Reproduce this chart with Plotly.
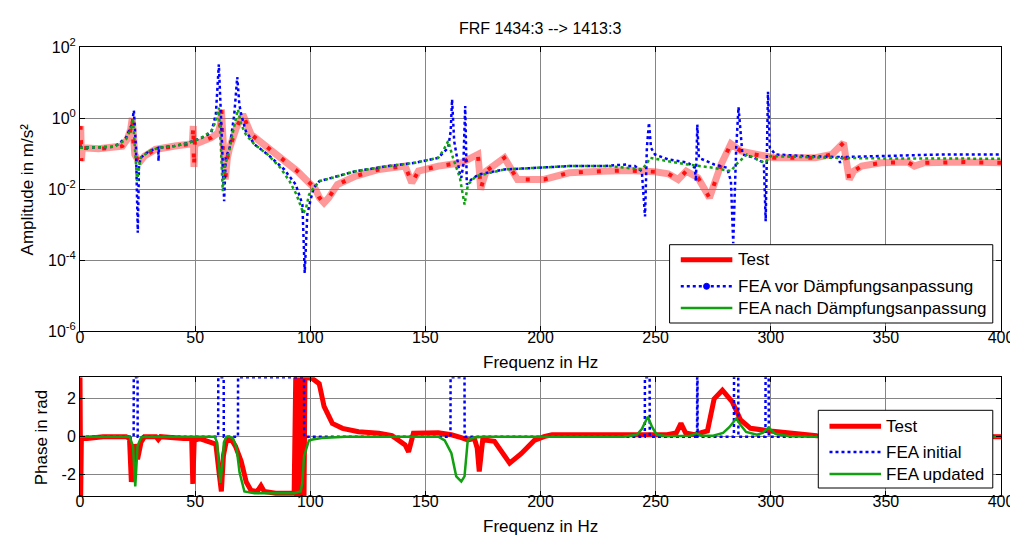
import plotly.graph_objects as go

# ---------------- data: amplitude (m/s^2) ----------------
test_amp_f = [0, 0.3, 0.6, 1.0, 8, 15.5, 18.4, 20.5, 22, 22.7, 23.3, 23.8, 25, 26.3, 28, 32.7, 41.3, 47,
              48.8, 49.2, 49.5, 49.9, 51.4, 57, 60, 61, 61.4, 62, 63.1, 64, 65, 67.9, 70.7, 74.3, 80, 87.2,
              94.4, 100.9, 102, 104, 106, 108, 111.8, 119.7, 129.8, 141.2, 144.1, 147, 155.6, 165.6, 172.8,
              173.5, 174, 175, 176.4, 184.3, 190, 201.5, 212.4, 226.8, 238.2, 249.7, 255.5, 259.8, 263.3,
              268.4, 273.4, 278.4, 282.7, 287, 292.8, 301.4, 319.4, 326.5, 331.6, 333, 334.1, 336, 339.5,
              348, 359.5, 362.4, 366.7, 384, 400]
test_amp = [0.146, 0.60, 0.062, 0.146, 0.137, 0.146, 0.163, 0.25, 0.48, 1.0, 0.146, 0.095, 0.069, 0.062,
            0.085, 0.131, 0.163, 0.181, 0.19, 0.60, 0.042, 0.225, 0.20, 0.279, 0.386, 0.66, 1.75, 0.146,
            0.0187, 0.076, 0.146, 0.53, 1.27, 0.347, 0.181, 0.076, 0.032, 0.0122, 0.0109, 0.0057, 0.0041,
            0.0057, 0.0135, 0.0232, 0.0358, 0.0445, 0.0151, 0.0321, 0.0445, 0.0552, 0.0948, 0.03, 0.0098,
            0.0168, 0.0321, 0.0763, 0.0187, 0.0187, 0.0288, 0.0321, 0.0336, 0.0307, 0.0271, 0.0187, 0.0321,
            0.0209, 0.0057, 0.0495, 0.189, 0.118, 0.0948, 0.0763, 0.0763, 0.0948, 0.202, 0.06, 0.0187,
            0.0321, 0.0445, 0.0552, 0.0577, 0.0445, 0.0552, 0.0577, 0.0552]

fea_init_amp_f = [0, 15, 20, 22.5, 23.4, 24.3, 25.1, 25.6, 26.3, 30, 34, 34.1, 34.3, 41, 47, 52.8, 57, 59,
                  60.3, 61.2, 61.8, 62.6, 63.3, 65, 67, 68.3, 69.2, 70, 72, 75.8, 81.5, 88.7, 93.7, 96.6,
                  97.6, 98.7, 100, 101.5, 104, 109.6, 119.7, 134, 145.5, 155.6, 159.9, 161, 161.6, 162.5,
                  165, 165.6, 166.5, 167.3, 168, 170, 173, 184.3, 201.5, 212.4, 226.8, 237.5, 238, 241, 244,
                  245.4, 246.2, 247.1, 248, 249.7, 255.5, 264, 267, 267.5, 268.1, 268.8, 275.5, 281, 282.7,
                  283.7, 285, 286, 287.7, 292.8, 297, 297.8, 298.8, 299.6, 302, 315, 329.5, 330.1, 331,
                  350, 375, 400]
fea_init_amp = [0.146, 0.156, 0.279, 0.66, 1.64, 0.146, 0.00059, 0.040, 0.076, 0.118, 0.146, 0.062, 0.146,
                0.163, 0.20, 0.279, 0.386, 1.27, 32.5, 1.27, 0.146, 0.0046, 0.076, 0.146, 1.27, 14.3, 2.43,
                1.27, 0.43, 0.181, 0.095, 0.0358, 0.0135, 0.0037, 0.000044, 0.0019, 0.0046, 0.0109, 0.0168,
                0.0209, 0.0321, 0.0445, 0.0552, 0.0763, 0.146, 0.43, 3.36, 0.225, 0.0259, 0.0209, 0.05,
                2.18, 0.0135, 0.0187, 0.0259, 0.0358, 0.040, 0.0445, 0.0445, 0.0495, 0.0445, 0.0445, 0.032,
                0.0017, 0.146, 0.74, 0.146, 0.0948, 0.0685, 0.0552, 0.040, 0.0168, 0.66, 0.0763, 0.0495,
                0.040, 0.0168, 0.0003, 0.146, 2.04, 0.0948, 0.0763, 0.0552, 0.00126, 5.5, 0.146, 0.0948,
                0.085, 0.08, 0.055, 0.08, 0.085, 0.0948, 0.0948]

fea_upd_amp_f = [0, 15, 20, 22.3, 23, 24, 24.8, 25.6, 26.3, 30, 34, 41, 47, 52.8, 57, 59, 60.3, 61.2, 62,
                 63, 64.5, 66.5, 68.6, 70, 72, 75.8, 81.5, 87, 91, 94, 97, 98.2, 99.5, 101.5, 104, 109.6,
                 119.7, 134, 145.5, 155.6, 158, 159.9, 162, 165, 167, 168.5, 172, 184.3, 201.5, 212, 230,
                 244, 246, 247.6, 255, 264, 275, 282.7, 285, 289.7, 294, 297.5, 300, 326, 350, 400]
fea_upd_amp = [0.146, 0.156, 0.25, 0.53, 1.0, 0.076, 0.017, 0.040, 0.076, 0.118, 0.146, 0.163, 0.20, 0.279,
               0.43, 0.82, 1.95, 0.146, 0.0088, 0.0495, 0.0948, 0.43, 1.75, 0.66, 0.347, 0.181, 0.0948, 0.04,
               0.0168, 0.0071, 0.0021, 0.0030, 0.0071, 0.0109, 0.0168, 0.0209, 0.0321, 0.0445, 0.0552,
               0.0763, 0.131, 0.225, 0.0763, 0.0209, 0.0037, 0.0135, 0.0232, 0.0358, 0.040, 0.0445, 0.0445,
               0.036, 0.05, 0.0763, 0.0618, 0.0495, 0.040, 0.032, 0.05, 0.0948, 0.0685, 0.0552, 0.085,
               0.0763, 0.073, 0.072]

# ---------------- data: phase (rad) ----------------
test_ph_f = [0, 0.3, 0.6, 3, 10, 20, 21.5, 22.3, 23, 24, 25, 26.5, 28, 33, 34, 35, 45, 48.5, 49, 49.6, 52,
             56, 59, 60.5, 61.4, 62.3, 63.6, 66, 67.5, 70, 72.2, 74.3, 77, 78.6, 80, 85, 93,
             93.7, 94.1, 94.5, 94.9, 95.3, 95.7, 96.1, 96.5, 96.9, 97.3, 97.7, 101, 103.9, 106, 109.6,
             114, 121, 129.8, 135.5, 141.2, 142.7, 143.5, 144.8, 155.6, 161.3, 165.6, 168.4, 171.3, 172.5,
             173.4, 174.2, 174.9, 180, 183, 186.6, 191.6, 197.3, 201.5, 205, 246, 255, 259, 261, 263,
             266.8, 272.5, 275.4, 279, 283.3, 286.9, 291.2, 299.8, 311, 320, 400]
test_ph = [3.14, -3.14, -0.1, -0.1, 0.0, 0.0, -0.1, -2.4, -1.2, -0.4, -1.2, -0.3, 0.0, 0.0, -0.15, 0.0,
           -0.1, -0.1, -2.5, -0.2, -0.1, -0.3, -0.4, -2.0, -2.9, -1.0, -0.2, -0.2, -0.5, -1.3, -2.4, -2.85,
           -2.9, -2.6, -2.9, -3.0, -3.0,
           3.14, -3.14, 3.14, -3.14, 3.14, -3.14, 3.14, -3.14, 3.14, -3.14, 3.14, 3.07, 2.8, 1.6, 0.7,
           0.44, 0.26, 0.18, 0.05, -0.44, -0.8, -0.5, 0.18, 0.2, 0.1, -0.05, -0.17, -0.1, -0.6,
           -1.85, -0.5, -0.17, -0.25, -0.8, -1.4, -0.9, -0.2, 0.0, 0.1, 0.1, 0.1, 0.2, 0.7, 0.2,
           0.1, 0.3, 2.0, 2.46, 1.84, 0.88, 0.44, 0.3, 0.15, 0.05, 0.0]

fea_init_ph_f = [0, 23.3, 23.35, 25.0, 25.05, 60.0, 60.05, 62.4, 62.45, 68.6, 68.65, 97.3, 97.35, 160.9,
                 160.95, 167.0, 167.05, 245.3, 245.35, 247.4, 247.45, 268.0, 268.05, 268.2, 268.25, 284.0,
                 284.05, 285.9, 285.95, 297.7, 297.75, 299.1, 299.15, 400]
fea_init_ph = [0, 0, 3.14, 3.14, 0, 0, 3.14, 3.14, 0, 0, 3.14, 3.14, 0, 0,
               3.14, 3.14, 0, 0, 3.14, 3.14, 0, 0, 3.14, 3.14, 0, 0,
               3.14, 3.14, 0, 0, 3.14, 3.14, 0, 0]

fea_upd_ph_f = [0, 21.5, 23, 24, 25, 26.5, 28, 58.5, 59.5, 60.3, 61, 61.8, 62.5, 63.6, 65, 66.5, 68, 69.3,
                71.4, 75.8, 93, 95.8, 96.5, 97.3, 98.2, 99.4, 101, 105, 115.4, 155.6, 158.4, 161.3, 163.4,
                165.6, 167, 168.4, 171, 175, 236, 241.8, 244, 246.6, 248.5, 250.5, 255, 265, 267.7, 270,
                275, 279.3, 282, 285, 287, 289.3, 294, 296.5, 299.1, 302, 308, 320, 400]
fea_upd_ph = [0, 0, -0.5, -2.63, -0.5, -0.05, 0, 0, -0.3, -1.5, -2.45, -1.5, -0.3, 0, 0, -0.1, -0.6, -1.9,
              -2.9, -3.0, -3.0, -2.9, -2.5, -1.05, -0.7, -0.2, -0.15, -0.07, 0, 0, -0.2, -0.88, -2.1,
              -2.37, -2.1, -0.2, -0.05, 0, 0, 0.1, 0.4, 1.05, 0.5, 0.1, 0.02, 0.05, 0.18, 0.05,
              0.05, 0.2, 0.5, 0.96, 0.6, 0.25, 0.1, 0.2, 0.47, 0.15, 0.02, 0, 0]

x_ticks = [0, 50, 100, 150, 200, 250, 300, 350, 400]
amp_ticks = [1e-6, 1e-4, 1e-2, 1, 100]
amp_ticktext = ["10<sup>-6</sup>", "10<sup>-4</sup>", "10<sup>-2</sup>", "10<sup>0</sup>", "10<sup>2</sup>"]
phase_ticks = [-2, 0, 2]
phase_ticktext = ["-2", "0", "2"]

TITLE = "FRF 1434:3 --> 1413:3"
XLABEL = "Frequenz in Hz"
YLABEL_AMP = "Amplitude in m/s²"
YLABEL_PH = "Phase in rad"
LEG_TOP = ["Test", "FEA vor Dämpfungsanpassung", "FEA nach Dämpfungsanpassung"]
LEG_BOT = ["Test", "FEA initial", "FEA updated"]

RED = "#ff0000"
BLUE = "#0000ff"
GREEN = "#10a010"
FONT = "Liberation Sans, Arial, sans-serif"

fig = go.Figure()
# amplitude
fig.add_trace(go.Scatter(x=test_amp_f, y=test_amp, mode="lines", xaxis="x", yaxis="y",
                         line=dict(color="rgba(255,70,70,0.55)", width=7), showlegend=False))
fig.add_trace(go.Scatter(x=test_amp_f, y=test_amp, mode="lines", xaxis="x", yaxis="y",
                         line=dict(color="rgba(255,0,0,0.9)", width=4, dash="4px,14px"), showlegend=False))
fig.add_trace(go.Scatter(x=fea_init_amp_f, y=fea_init_amp, mode="lines", xaxis="x", yaxis="y",
                         line=dict(color=BLUE, width=2.5, dash="dot"), showlegend=False))
fig.add_trace(go.Scatter(x=fea_upd_amp_f, y=fea_upd_amp, mode="lines", xaxis="x", yaxis="y",
                         line=dict(color=GREEN, width=2.5, dash="dot"), showlegend=False))
# phase
fig.add_trace(go.Scatter(x=test_ph_f, y=test_ph, mode="lines", xaxis="x2", yaxis="y2",
                         line=dict(color=RED, width=5), showlegend=False))
fig.add_trace(go.Scatter(x=fea_init_ph_f, y=fea_init_ph, mode="lines", xaxis="x2", yaxis="y2",
                         line=dict(color=BLUE, width=2.5, dash="dot"), showlegend=False))
fig.add_trace(go.Scatter(x=fea_upd_ph_f, y=fea_upd_ph, mode="lines", xaxis="x2", yaxis="y2",
                         line=dict(color=GREEN, width=2.5), showlegend=False))

W, H = 1018, 536
ML, MR, MT, MB = 72, 17, 39, 48
PW, PH = W - ML - MR, H - MT - MB


def px(x):
    return (x - ML) / PW


def py(y):
    return (H - MB - y) / PH


axis_common = dict(showline=True, linecolor="black", linewidth=1, mirror="allticks",
                   ticks="inside", ticklen=5, tickcolor="black", showgrid=True,
                   gridcolor="#858585", gridwidth=1, zeroline=False,
                   tickfont=dict(family=FONT, size=16, color="black"))

fig.update_layout(
    width=W, height=H, paper_bgcolor="white", plot_bgcolor="white",
    margin=dict(l=ML, r=MR, t=MT, b=MB),
    showlegend=False,
    xaxis=dict(domain=[0, 1], anchor="y", range=[0, 400], tickvals=x_ticks, ticklabelstandoff=-9,
               **axis_common),
    yaxis=dict(domain=[py(323.3), 1], anchor="x", type="log", range=[-6, 2],
               tickvals=amp_ticks, ticktext=amp_ticktext, **axis_common),
    xaxis2=dict(domain=[0, 1], anchor="y2", range=[0, 400], tickvals=x_ticks, ticklabelstandoff=-9,
                **axis_common),
    yaxis2=dict(domain=[0, py(369.3)], anchor="x2", range=[-3.1416, 3.1416], tickvals=phase_ticks,
                ticktext=phase_ticktext, **axis_common),
)

ann = []
shapes = []
ann.append(dict(text=TITLE, x=px(536), y=py(20), xref="paper", yref="paper", showarrow=False,
                font=dict(family=FONT, size=16, color="black"), xanchor="center", yanchor="middle"))
ann.append(dict(text=XLABEL, x=px(536), y=py(355), xref="paper", yref="paper", showarrow=False,
                font=dict(family=FONT, size=17, color="black"), xanchor="center", yanchor="middle"))
ann.append(dict(text=XLABEL, x=px(536), y=py(518), xref="paper", yref="paper", showarrow=False,
                font=dict(family=FONT, size=17, color="black"), xanchor="center", yanchor="middle"))
ann.append(dict(text=YLABEL_AMP, x=px(19), y=py(181), xref="paper", yref="paper", showarrow=False,
                textangle=-90, font=dict(family=FONT, size=17, color="black"),
                xanchor="center", yanchor="middle"))
ann.append(dict(text=YLABEL_PH, x=px(33), y=py(430), xref="paper", yref="paper", showarrow=False,
                textangle=-90, font=dict(family=FONT, size=17, color="black"),
                xanchor="center", yanchor="middle"))


def legend(box, rows, labels, styles, line_x0, line_x1, text_x):
    x0, y0, x1, y1 = box
    shapes.append(dict(type="rect", xref="paper", yref="paper", x0=px(x0), x1=px(x1), y0=py(y1), y1=py(y0),
                       line=dict(color="black", width=1), fillcolor="white", layer="above"))
    for ry, lab, st in zip(rows, labels, styles):
        shapes.append(dict(type="line", xref="paper", yref="paper", x0=px(line_x0), x1=px(line_x1),
                           y0=py(ry), y1=py(ry), line=st["line"], layer="above"))
        if st.get("marker"):
            cx = (line_x0 + line_x1) / 2
            shapes.append(dict(type="circle", xref="paper", yref="paper", x0=px(cx - 3), x1=px(cx + 3),
                               y0=py(ry + 3), y1=py(ry - 3), fillcolor=st["line"]["color"],
                               line=dict(color=st["line"]["color"], width=1), layer="above"))
        ann.append(dict(text=lab, x=px(text_x), y=py(ry), xref="paper", yref="paper", showarrow=False,
                        font=dict(family=FONT, size=17, color="black"), xanchor="left", yanchor="middle"))


legend((666.7, 236.7, 992.7, 315), [251.7, 278.3, 300], LEG_TOP,
       [dict(line=dict(color=RED, width=5)),
        dict(line=dict(color=BLUE, width=2.5, dash="dot"), marker=True),
        dict(line=dict(color=GREEN, width=2.5))],
       678, 730, 734)
legend((816.7, 402.3, 992.7, 480), [418.3, 444, 466], LEG_BOT,
       [dict(line=dict(color=RED, width=5)),
        dict(line=dict(color=BLUE, width=2.5, dash="dot")),
        dict(line=dict(color=GREEN, width=2.5))],
       828, 880, 883)

fig.update_layout(annotations=ann, shapes=shapes)
fig.write_html("out.html")
